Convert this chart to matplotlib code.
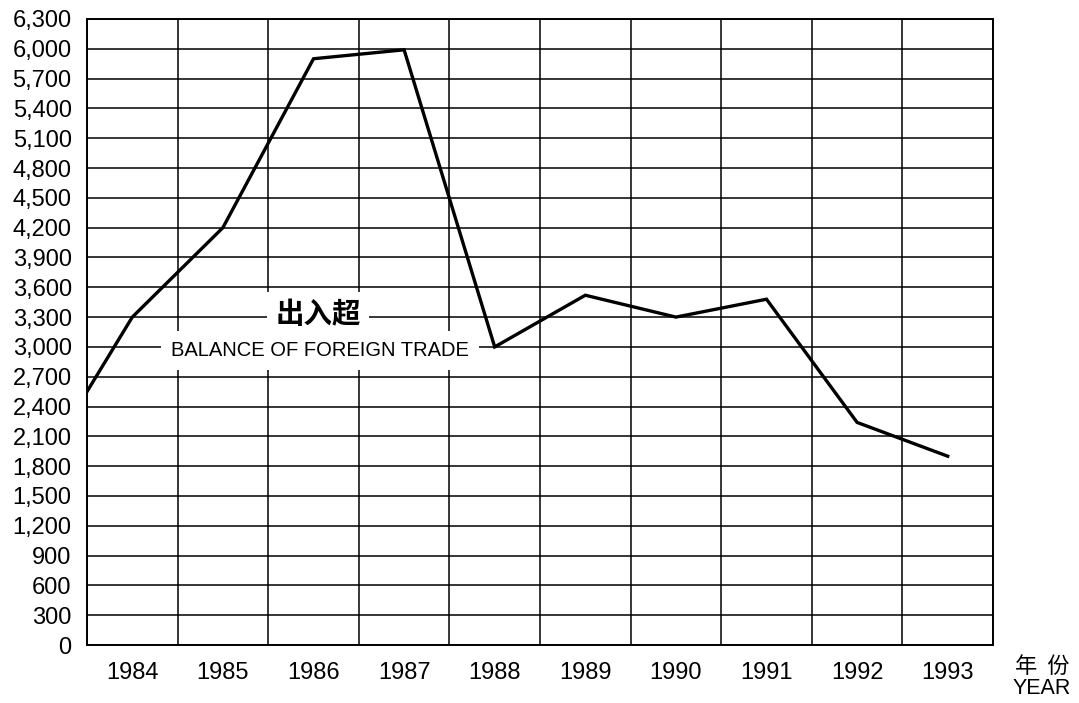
import numpy as np
import matplotlib
matplotlib.use('Agg')
import matplotlib.pyplot as plt
from matplotlib.ticker import FixedLocator, FuncFormatter

plt.rcParams['font.family'] = ['Liberation Sans', 'Noto Sans CJK SC', 'DejaVu Sans']

# data (1983 only shows as the clipped start of the line)
years = [1983, 1984, 1985, 1986, 1987, 1988, 1989, 1990, 1991, 1992, 1993]
balance = [1800, 3300, 4200, 5900, 5990, 3000, 3520, 3300, 3480, 2240, 1900]
year_labels = ['1984', '1985', '1986', '1987', '1988', '1989', '1990', '1991', '1992', '1993']
y_ticks = list(range(0, 6301, 300))

fig = plt.figure(figsize=(10.79, 7.03), dpi=100)
ax = fig.add_axes([87 / 1079, 1 - 645 / 703, (993 - 87) / 1079, (645 - 19) / 703])

x = np.array(years) - years[1]
ax.plot(x, balance, color='black', lw=2.4, solid_joinstyle='miter', zorder=3)

ax.set_xlim(-0.5, len(year_labels) - 0.5)
ax.set_ylim(0, 6300)

# labels in the middle of each column, grid lines on the column edges
ax.set_xticks(range(len(year_labels)))
ax.set_xticklabels(year_labels)
ax.xaxis.set_minor_locator(FixedLocator(np.arange(-0.5, len(year_labels), 1.0)))
ax.set_yticks(y_ticks)
ax.yaxis.set_major_formatter(FuncFormatter(lambda v, p: f'{int(v):,}'))

ax.tick_params(axis='both', which='both', length=0, labelsize=17, colors='black')
ax.tick_params(axis='x', pad=12)
ax.tick_params(axis='y', pad=11)

ax.grid(which='minor', axis='x', color='black', lw=1.1)
ax.grid(which='major', axis='y', color='black', lw=1.1)
ax.set_axisbelow(True)
for s in ax.spines.values():
    s.set_linewidth(1.4)
    s.set_color('black')

# label box sitting on the grid
ax.text(2.05, 3322, '出入超', ha='center', va='center', fontsize=20.5, fontweight='bold',
        family=['Noto Sans CJK SC', 'DejaVu Sans'], zorder=4,
        bbox=dict(boxstyle='square,pad=0.3', fc='white', ec='none'))
ax.text(2.07, 2965, 'BALANCE OF FOREIGN TRADE', ha='center', va='center', fontsize=14.5, zorder=4,
        bbox=dict(boxstyle='square,pad=0.5', fc='white', ec='none'))

fig.text(1042 / 1079, 1 - 666 / 703, '年  份', ha='center', va='center', fontsize=16,
         family=['Noto Sans CJK SC', 'DejaVu Sans'])
fig.text(1042 / 1079, 1 - 688 / 703, 'YEAR', ha='center', va='center', fontsize=15.5)

fig.savefig('out.png', dpi=100, facecolor='white')
